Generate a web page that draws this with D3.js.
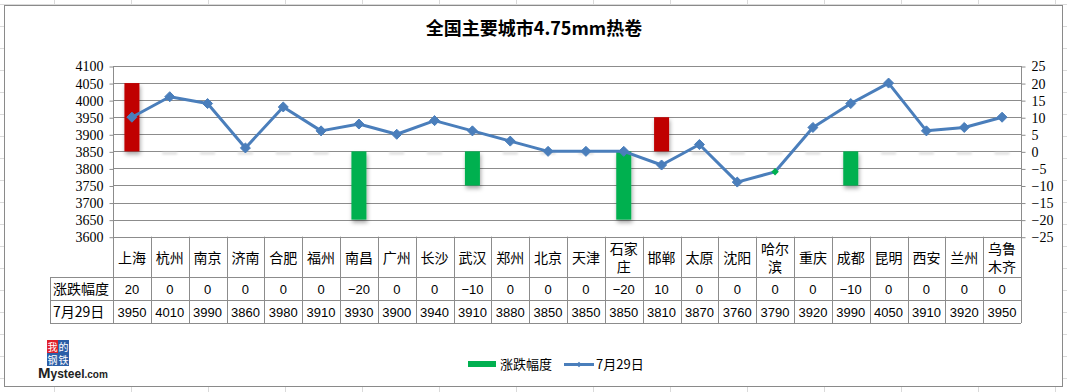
<!DOCTYPE html>
<html>
<head>
<meta charset="utf-8">
<script src="https://cdn.jsdelivr.net/npm/d3@7"></script>
<style>
body { margin: 0; background: #fff; }
svg text { font-family: "Noto Sans CJK SC", "Noto Sans", sans-serif; fill: #000; }
</style>
</head>
<body>
<script>
// chart data
var cities = ["上海","杭州","南京","济南","合肥","福州","南昌","广州","长沙","武汉","郑州","北京",
              "天津","石家庄","邯郸","太原","沈阳","哈尔滨","重庆","成都","昆明","西安","兰州","乌鲁木齐"];
var change = [20,0,0,0,0,0,-20,0,0,-10,0,0,0,-20,10,0,0,0,0,-10,0,0,0,0];
var price = [3950,4010,3990,3860,3980,3910,3930,3900,3940,3910,3880,3850,
             3850,3850,3810,3870,3760,3790,3920,3990,4050,3910,3920,3950];
var leftTicks = [3600,3650,3700,3750,3800,3850,3900,3950,4000,4050,4100];
var rightTicks = [-25,-20,-15,-10,-5,0,5,10,15,20,25];
var seriesNames = ["涨跌幅度", "7月29日"];
var title = "全国主要城市4.75mm热卷";

var W = 1067, H = 392,
plotLeft = 113, plotRight = 1021,
plotTop = 66, plotBottom = 236.7,
row1 = 277, row2 = 300, row3 = 323,
tableLeft = 50,
gridColor = "#8c8c8c",
lineBlue = "#4a7ebb";

var svg = d3.select("body").append("svg")
 .attr("width", W)
 .attr("height", H);

var defs = svg.append("defs");
var f = defs.append("filter").attr("id", "shadow")
 .attr("x", "-50%").attr("y", "-50%").attr("width", "200%").attr("height", "200%");
f.append("feDropShadow").attr("dx", 1).attr("dy", 3).attr("stdDeviation", 2)
 .attr("flood-color", "#000").attr("flood-opacity", 0.35);
var blur = defs.append("filter").attr("id", "blur")
 .attr("x", "-50%").attr("y", "-200%").attr("width", "200%").attr("height", "500%");
blur.append("feGaussianBlur").attr("stdDeviation", 1.2);

// spreadsheet cells behind the chart
var sheet = svg.append("g").attr("stroke", "#dadada").attr("stroke-width", 1);
d3.range(-23, 1067, 77).forEach(function (x) {
  sheet.append("line").attr("x1", x + 0.5).attr("x2", x + 0.5).attr("y1", 0).attr("y2", H);
});
d3.range(4, 392, 22).forEach(function (y) {
  sheet.append("line").attr("x1", 0).attr("x2", W).attr("y1", y + 0.5).attr("y2", y + 0.5);
});

// chart area
svg.append("rect")
 .attr("x", 4.5).attr("y", 5.5)
 .attr("width", 1058).attr("height", 381)
 .attr("fill", "#fff")
 .attr("stroke", "#8a8a8a");

svg.append("text")
 .attr("x", 534).attr("y", 35)
 .attr("text-anchor", "middle")
 .style("font-size", "18px")
 .style("font-weight", "bold")
 .text(title);

var x = d3.scaleBand().domain(cities).range([plotLeft, plotRight]);
var yL = d3.scaleLinear().domain([3600, 4100]).range([plotBottom, plotTop]);
var yR = d3.scaleLinear().domain([-25, 25]).range([plotBottom, plotTop]);
var cx = function (c) { return x(c) + x.bandwidth() / 2; };

// gridlines
svg.append("g").selectAll("line").data(leftTicks).enter().append("line")
 .attr("x1", plotLeft).attr("x2", plotRight)
 .attr("y1", function (d) { return Math.round(yL(d)) + 0.5; })
 .attr("y2", function (d) { return Math.round(yL(d)) + 0.5; })
 .attr("stroke", gridColor);

// left axis
var gL = svg.append("g").attr("transform", "translate(" + (plotLeft + 0.5) + ",0.5)")
 .call(d3.axisLeft(yL).tickValues(leftTicks).tickSize(4).tickPadding(6).tickFormat(d3.format("d")));
gL.select(".domain").remove();
gL.selectAll("line").attr("stroke", gridColor);
gL.selectAll("text").style("font-family", "'Liberation Serif', serif").style("font-size", "14px");

// right axis
var gR = svg.append("g").attr("transform", "translate(" + (plotRight + 0.5) + ",0.5)")
 .call(d3.axisRight(yR).tickValues(rightTicks).tickSize(4).tickPadding(6)
   .tickFormat(function (d) { return d < 0 ? "\u2212" + (-d) : d; }));
gR.select(".domain").remove();
gR.selectAll("line").attr("stroke", gridColor);
gR.selectAll("text").style("font-family", "'Liberation Serif', serif").style("font-size", "14px");

svg.append("line").attr("x1", plotLeft + 0.5).attr("x2", plotLeft + 0.5)
 .attr("y1", plotTop).attr("y2", row3).attr("stroke", gridColor);
svg.append("line").attr("x1", plotRight + 0.5).attr("x2", plotRight + 0.5)
 .attr("y1", plotTop).attr("y2", row3).attr("stroke", gridColor);

// data table
var table = svg.append("g").attr("stroke", gridColor);
x.domain().forEach(function (c) {
  var xx = Math.round(x(c) + x.bandwidth()) + 0.5;
  table.append("line").attr("x1", xx).attr("x2", xx).attr("y1", plotBottom).attr("y2", row3);
});
[row1, row2, row3].forEach(function (r) {
  table.append("line").attr("x1", tableLeft).attr("x2", plotRight).attr("y1", r + 0.5).attr("y2", r + 0.5);
});
table.append("line").attr("x1", tableLeft + 0.5).attr("x2", tableLeft + 0.5).attr("y1", row1).attr("y2", row3);

var cat = svg.append("g").selectAll("text").data(cities).enter().append("text")
 .attr("text-anchor", "middle")
 .style("font-size", "14px")
 .attr("x", cx);
cat.each(function (d) {
  var t = d3.select(this);
  if (d.length > 2) {
    t.append("tspan").attr("x", t.attr("x")).attr("y", 254).text(d.slice(0, 2));
    t.append("tspan").attr("x", t.attr("x")).attr("y", 272).text(d.slice(2));
  } else {
    t.attr("y", 263).text(d);
  }
});

svg.append("g").selectAll("text").data(change).enter().append("text")
 .attr("text-anchor", "middle")
 .style("font-family", "'Liberation Sans', sans-serif")
 .style("font-size", "13px")
 .attr("x", function (d, i) { return cx(cities[i]); })
 .attr("y", 294)
 .text(function (d) { return d < 0 ? "\u2212" + (-d) : d; });

svg.append("g").selectAll("text").data(price).enter().append("text")
 .attr("text-anchor", "middle")
 .style("font-family", "'Liberation Sans', sans-serif")
 .style("font-size", "13px")
 .attr("x", function (d, i) { return cx(cities[i]); })
 .attr("y", 317)
 .text(function (d) { return d; });

svg.append("text").attr("x", 53).attr("y", 294).style("font-size", "14px").text(seriesNames[0]);
svg.append("text").attr("x", 53).attr("y", 317).style("font-size", "14px").text(seriesNames[1]);

// bars (right axis)
var barW = 15;
var bars = change.map(function (v, i) { return {c: cities[i], v: v}; });

svg.append("g").selectAll("rect").data(bars.filter(function (d) { return d.v === 0; }))
 .enter().append("rect")
 .attr("x", function (d) { return cx(d.c) - barW / 2; })
 .attr("y", yR(0) + 1)
 .attr("width", barW).attr("height", 2)
 .attr("fill", "#d8d8d8")
 .attr("filter", "url(#blur)");

svg.append("g").selectAll("rect").data(bars.filter(function (d) { return d.v !== 0; }))
 .enter().append("rect")
 .attr("x", function (d) { return cx(d.c) - barW / 2; })
 .attr("y", function (d) { return yR(Math.max(0, d.v)); })
 .attr("width", barW)
 .attr("height", function (d) { return Math.abs(yR(d.v) - yR(0)); })
 .attr("fill", function (d) { return d.v > 0 ? "#c00000" : "#00b050"; })
 .attr("filter", "url(#shadow)");

// price line (left axis)
var line = d3.line()
 .x(function (d, i) { return cx(cities[i]); })
 .y(function (d) { return yL(d); });

svg.append("path").datum(price)
 .attr("d", line)
 .attr("fill", "none")
 .attr("stroke", lineBlue)
 .attr("stroke-width", 3)
 .attr("stroke-linejoin", "round");

var diamond = d3.symbol().type(d3.symbolDiamond2);
svg.append("g").selectAll("path").data(price).enter().append("path")
 .attr("transform", function (d, i) {
   return "translate(" + cx(cities[i]) + "," + yL(d) + ")";
 })
 .attr("d", function (d, i) { return diamond.size(cities[i] === "哈尔滨" ? 36 : 64)(); })
 .attr("fill", function (d, i) { return cities[i] === "哈尔滨" ? "#00b050" : lineBlue; })
 .attr("stroke", function (d, i) { return cities[i] === "哈尔滨" ? "none" : lineBlue; });

// legend
var lg = svg.append("g");
lg.append("rect").attr("x", 468).attr("y", 361).attr("width", 28).attr("height", 6).attr("fill", "#00b050");
lg.append("text").attr("x", 500).attr("y", 369).style("font-size", "13px").text(seriesNames[0]);
lg.append("line").attr("x1", 564).attr("x2", 594).attr("y1", 364.5).attr("y2", 364.5)
 .attr("stroke", lineBlue).attr("stroke-width", 3);
lg.append("path").attr("transform", "translate(579,364.5)")
 .attr("d", diamond.size(20)()).attr("fill", lineBlue);
lg.append("text").attr("x", 596).attr("y", 369).style("font-size", "13px").text(seriesNames[1]);

// Mysteel logo
var logo = svg.append("g");
[["我", 47, 340, "#e0202a"], ["的", 58, 340, "#2b5ea7"], ["钢", 47, 353, "#2b5ea7"], ["铁", 58, 353, "#2b5ea7"]]
 .forEach(function (b) {
   logo.append("rect").attr("x", b[1]).attr("y", b[2]).attr("width", 11).attr("height", 13).attr("fill", b[3]);
   logo.append("text").attr("x", b[1] + 5.5).attr("y", b[2] + 10.5).attr("text-anchor", "middle")
    .style("font-family", "'Noto Sans CJK SC'").style("font-size", "10px").style("fill", "#fff").text(b[0]);
 });
logo.append("text").attr("x", 38).attr("y", 378)
 .style("font-family", "'Liberation Sans', sans-serif").style("font-weight", "bold")
 .style("font-size", "12px").style("fill", "#222")
 .html('<tspan style="font-size:15px">M</tspan>ysteel<tspan style="font-size:10px">.com</tspan>');
</script>
</body>
</html>
